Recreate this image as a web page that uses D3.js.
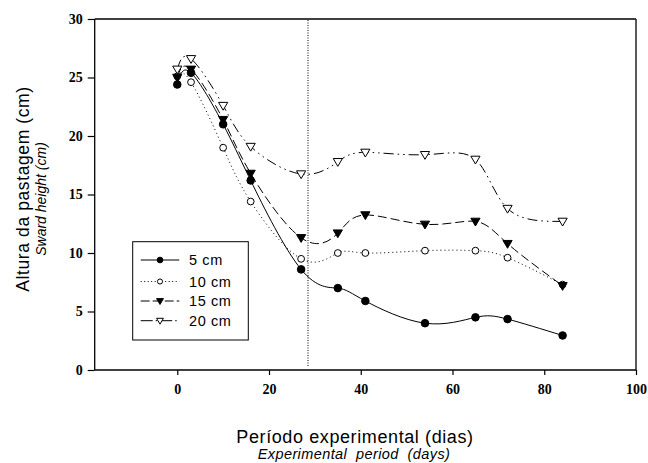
<!DOCTYPE html>
<html>
<head>
<meta charset="utf-8">
<script src="https://cdn.jsdelivr.net/npm/d3@7"></script>
<style>
  html, body { margin: 0; padding: 0; background: #fff; }
  svg { display: block; }
</style>
</head>
<body>
<svg id="chart" width="648" height="463"></svg>
<script>
// ---- Data ----
const days = [0, 3, 10, 16, 27, 35, 41, 54, 65, 72, 84];
const h5  = [24.4, 25.4, 21.0, 16.2, 8.6, 7.0, 5.9, 4.0, 4.5, 4.35, 2.95];
const h10 = [25.1, 24.6, 19.0, 14.4, 9.5, 10.0, 10.0, 10.2, 10.2, 9.6, 7.3];
const h15 = [25.0, 25.7, 21.4, 16.8, 11.3, 11.7, 13.25, 12.45, 12.7, 10.8, 7.2];
const h20 = [25.7, 26.6, 22.6, 19.1, 16.75, 17.8, 18.6, 18.4, 18.0, 13.8, 12.7];
const seriesNames = ["5 cm", "10 cm", "15 cm", "20 cm"];
const xTicks = [0, 20, 40, 60, 80, 100];
const yTicks = [0, 5, 10, 15, 20, 25, 30];
const markLine = 28.5;

// ---- Layout ----
const svg = d3.select("#chart");
const L = 94.7, R = 636, T = 19, B = 370;
const x = d3.scaleLinear().domain([-18, 100]).range([L, R]);
const y = d3.scaleLinear().domain([0, 30]).range([B, T]);

const tickFont = "'Liberation Serif', 'Times New Roman', serif";
const sansFont = "'Liberation Sans', Arial, sans-serif";

// frame top/right
svg.append("line").attr("x1", L).attr("x2", R).attr("y1", T).attr("y2", T)
  .attr("stroke", "#000").attr("stroke-width", 1.3);
svg.append("line").attr("x1", R).attr("x2", R).attr("y1", T).attr("y2", B)
  .attr("stroke", "#000").attr("stroke-width", 1.3);

// axes
const xAxis = d3.axisBottom(x).tickValues(xTicks).tickSize(5).tickPadding(9).tickSizeOuter(0);
const gx = svg.append("g").attr("transform", `translate(0,${B})`).call(xAxis);
const yAxis = d3.axisLeft(y).tickValues(yTicks).tickSize(7).tickPadding(5).tickSizeOuter(0);
const gy = svg.append("g").attr("transform", `translate(${L},0)`).call(yAxis);
[gx, gy].forEach(g => {
  g.select(".domain").attr("stroke", "#000").attr("stroke-width", 1.3);
  g.selectAll(".tick line").attr("stroke", "#000").attr("stroke-width", 1.2);
  g.selectAll(".tick text").attr("fill", "#000")
    .style("font-family", tickFont).style("font-weight", "bold").style("font-size", "14px");
});
gx.select(".domain").attr("d", `M${L},0H${R}`);
gy.select(".domain").attr("d", `M0,${y(0)}V${y(30)}`);

// vertical dotted reference line
svg.append("line").attr("x1", x(markLine)).attr("x2", x(markLine))
  .attr("y1", T + 1).attr("y2", B - 3)
  .attr("stroke", "#000").attr("stroke-width", 1).attr("stroke-dasharray", "1,1.5");

// series
const series = [
  { name: seriesNames[0], vals: h5,  dash: null,               legDash: null,          marker: "circle",   fill: "#000" },
  { name: seriesNames[1], vals: h10, dash: "1,3",              legDash: "1,2.5",       marker: "circle",   fill: "#fff" },
  { name: seriesNames[2], vals: h15, dash: "9,4",              legDash: "9,3",         marker: "triangle", fill: "#000" },
  { name: seriesNames[3], vals: h20, dash: "10,4,1.5,4,1.5,4", legDash: "12,3,1.5,3",  marker: "triangle", fill: "#fff" }
];

const line = d3.line().x(d => x(d[0])).y(d => y(d[1])).curve(d3.curveNatural);

function drawMarker(g, type, cx, cy, fill, s) {
  if (type === "circle") {
    g.append("circle").attr("cx", cx).attr("cy", cy).attr("r", (fill === "#000" ? 3.8 : 3.4) * s)
      .attr("fill", fill).attr("stroke", "#000").attr("stroke-width", 1);
  } else {
    const w = 4.6 * s, hU = 3.2 * s, hD = 4.6 * s;
    g.append("path").attr("d", `M${cx - w},${cy - hU}L${cx + w},${cy - hU}L${cx},${cy + hD}Z`)
      .attr("fill", fill).attr("stroke", "#000").attr("stroke-width", 1);
  }
}

series.forEach(s => {
  const pts = days.map((d, i) => [d, s.vals[i]]);
  svg.append("path").attr("d", line(pts)).attr("fill", "none")
    .attr("stroke", "#000").attr("stroke-width", 1)
    .attr("stroke-dasharray", s.dash);
});
series.forEach(s => {
  const g = svg.append("g");
  days.forEach((d, i) => drawMarker(g, s.marker, x(d), y(s.vals[i]), s.fill, 1));
});

// legend
const lg = svg.append("g");
lg.append("rect").attr("x", 132.7).attr("y", 241.7).attr("width", 115.6).attr("height", 98.3)
  .attr("fill", "#fff").attr("stroke", "#000").attr("stroke-width", 1);
const rowY = [260, 281.5, 301, 320.7];
series.forEach((s, i) => {
  lg.append("line").attr("x1", 140.7).attr("x2", 179.3).attr("y1", rowY[i]).attr("y2", rowY[i])
    .attr("stroke", "#000").attr("stroke-width", 1).attr("stroke-dasharray", s.legDash);
  drawMarker(lg, s.marker, 160, rowY[i], s.fill, 0.75);
  lg.append("text").attr("x", 189).attr("y", rowY[i] + 5).text(s.name)
    .style("font-family", sansFont).style("font-size", "14.5px").style("letter-spacing", "0.6px")
    .attr("fill", "#000");
});

// axis titles
svg.append("text").attr("x", 355).attr("y", 443).attr("text-anchor", "middle")
  .text("Período experimental (dias)")
  .style("font-family", sansFont).style("font-size", "18px").style("letter-spacing", "0.6px");
svg.append("text").attr("x", 354).attr("y", 459).attr("text-anchor", "middle")
  .text("Experimental  period  (days)")
  .style("font-family", sansFont).style("font-size", "14.5px").style("font-style", "italic")
  .style("letter-spacing", "0.4px").style("white-space", "pre");

svg.append("text").attr("transform", "translate(29,189) rotate(-90)").attr("text-anchor", "middle")
  .text("Altura da pastagem (cm)")
  .style("font-family", sansFont).style("font-size", "17.5px").style("letter-spacing", "0.6px");
svg.append("text").attr("transform", "translate(46,199) rotate(-90)").attr("text-anchor", "middle")
  .text("Sward height (cm)")
  .style("font-family", sansFont).style("font-size", "14px").style("font-style", "italic");
</script>
</body>
</html>
